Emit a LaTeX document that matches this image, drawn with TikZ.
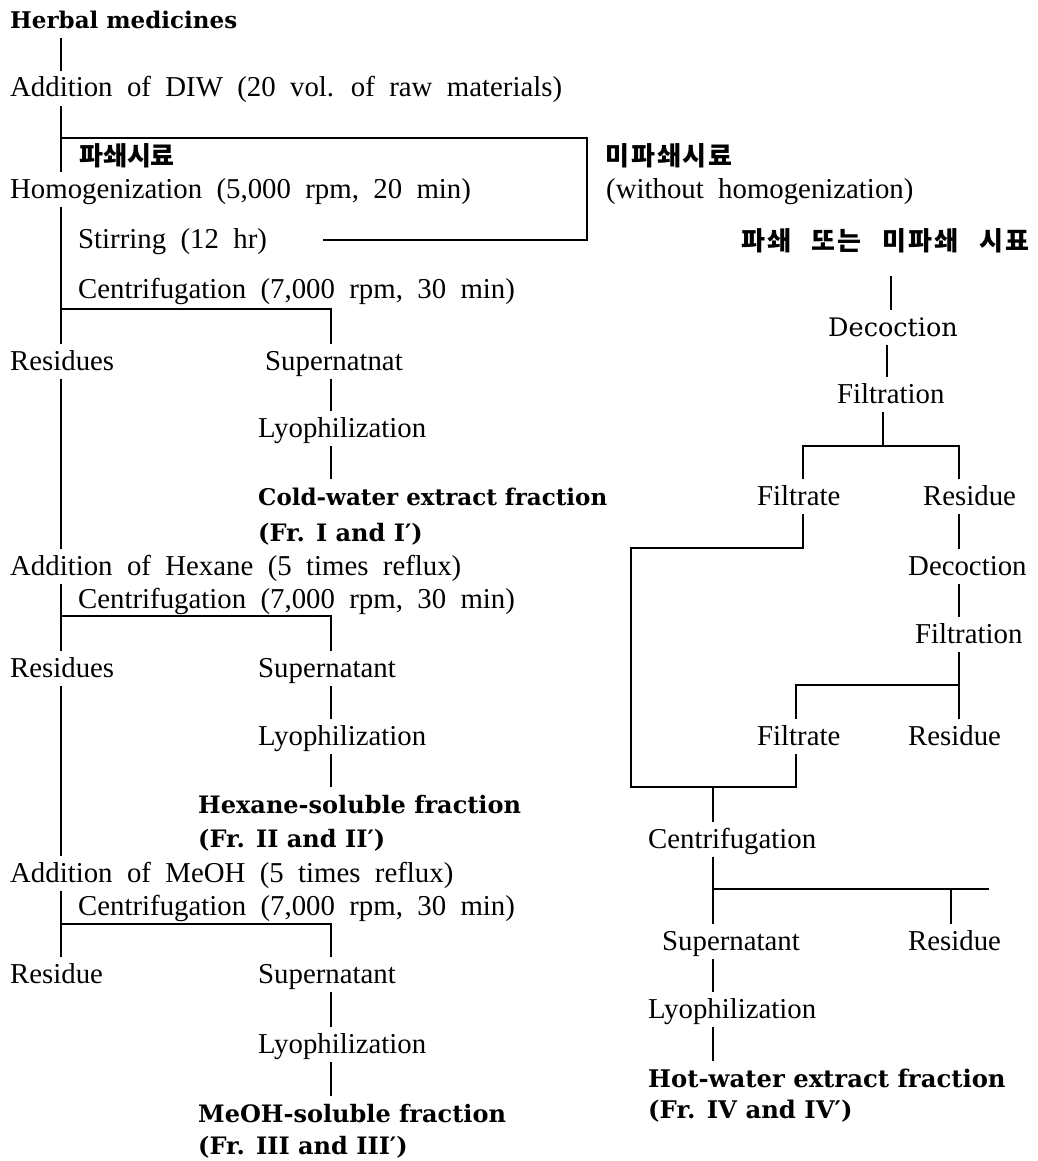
\documentclass[tikz,border=0pt]{standalone}
\usepackage{fontspec}
\setmainfont{Liberation Serif}[WordSpace=2]
\newfontfamily\bfam{DejaVu Serif}[WordSpace=1.6]
\newfontfamily\decofont{DejaVu Serif}
\newfontfamily\krfont{Noto Sans CJK KR}
\newcommand\ks{\kern2pt}
\newcommand\kw{\kern13pt}
\tikzset{
  base/.style={anchor=base west, inner xsep=0pt, inner ysep=6pt, text height=20pt, text depth=3pt},
  reg/.style={base, font=\fontsize{28.8}{30}\selectfont},
  bld/.style={base, font=\bfam\bfseries\fontsize{24}{26}\selectfont},
  bldr/.style={base, font=\bfam\bfseries\fontsize{24.3}{26}\selectfont},
  bldc/.style={base, font=\bfam\bfseries\fontsize{23}{26}\selectfont},
  kor/.style={base, font=\krfont\bfseries\fontsize{26}{28}\selectfont},
  deco/.style={base, font=\decofont\fontsize{25.5}{28}\selectfont},
  ln/.style={line width=1.1pt, line cap=butt},
}
\begin{document}
\begin{tikzpicture}[x=1pt,y=-1pt]
\useasboundingbox[fill=white] (0,0) rectangle (1037,1161);
% column coordinates
\coordinate (xL) at (61,0);
\coordinate (xS) at (331,0);
\coordinate (xR) at (587,0);
\coordinate (xA) at (891,0);
\coordinate (xB) at (887,0);
\coordinate (xC) at (883,0);
\coordinate (xF) at (803,0);
\coordinate (xG) at (631,0);
\coordinate (xH) at (796,0);
\coordinate (xE) at (959,0);
\coordinate (xM) at (713,0);
\coordinate (xN) at (951,0);
% ---------- left column ----------
\node[bldc] (herb) at (10,29) {Herbal medicines};
\node[reg] (diw) at (10,97) {Addition of DIW (20 vol. of raw materials)};
\node[kor] (pas) at (79,166) {파쇄시료};
\node[reg] (hom) at (10,198) {Homogenization (5,000 rpm, 20 min)};
\node[reg] (stir) at (78,248) {Stirring (12 hr)};
\node[reg] (cen1) at (78,298) {Centrifugation (7,000 rpm, 30 min)};
\node[reg] (res1) at (10,370) {Residues};
\node[reg] (sup1) at (265,370) {Supernatnat};
\node[reg] (lyo1) at (258,437) {Lyophilization};
\node[bldc] (cold) at (258,505) {Cold-water extract fraction};
\node[bld] (frI) at (258,541) {(Fr. I and I′)};
\node[reg] (hex) at (10,575) {Addition of Hexane (5 times reflux)};
\node[reg] (cen2) at (78,608) {Centrifugation (7,000 rpm, 30 min)};
\node[reg] (res2) at (10,677) {Residues};
\node[reg] (sup2) at (258,677) {Supernatant};
\node[reg] (lyo2) at (258,745) {Lyophilization};
\node[bld] (hxs) at (198,813) {Hexane-soluble fraction};
\node[bld] (frII) at (198,847) {(Fr. II and II′)};
\node[reg] (meo) at (10,882) {Addition of MeOH (5 times reflux)};
\node[reg] (cen3) at (78,915) {Centrifugation (7,000 rpm, 30 min)};
\node[reg] (res3) at (10,983) {Residue};
\node[reg] (sup3) at (258,983) {Supernatant};
\node[reg] (lyo3) at (258,1053) {Lyophilization};
\node[bld] (mes) at (198,1122) {MeOH-soluble fraction};
\node[bld] (frIII) at (198,1154) {(Fr. III and III′)};
% ---------- right column ----------
\node[kor] (mip) at (605,166) {미\ks 파\ks 쇄\ks 시\ks 료};
\node[reg] (woh) at (606,198) {(without homogenization)};
\node[kor] (kr2) at (741,250) {파\ks 쇄\ks{} \kw 또\ks 는\ks{} \kw 미\ks 파\ks 쇄\ks{} \kw 시\ks 표};
\node[deco] (dec1) at (828,336) {Decoction};
\node[reg] (filt1) at (837,403) {Filtration};
\node[reg] (ftr1) at (757,505) {Filtrate};
\node[reg] (rsd1) at (923,505) {Residue};
\node[reg] (dec2) at (908,575) {Decoction};
\node[reg] (filt2) at (915,643) {Filtration};
\node[reg] (ftr2) at (757,745) {Filtrate};
\node[reg] (rsd2) at (908,745) {Residue};
\node[reg] (cen4) at (648,848) {Centrifugation};
\node[reg] (sup4) at (662,950) {Supernatant};
\node[reg] (rsd3) at (908,950) {Residue};
\node[reg] (lyo4) at (648,1018) {Lyophilization};
\node[bldr] (hot) at (648,1087) {Hot-water extract fraction};
\node[bldr] (frIV) at (648,1118) {(Fr. IV and IV′)};
% ---------- junctions ----------
\coordinate (jA) at (61,138);
\coordinate (jB) at (587,138);
\coordinate (jC) at (587,240);
\coordinate (sEnd) at (323,240);
\coordinate (jD) at (61,309);
\coordinate (jE) at (61,616);
\coordinate (jF) at (61,924);
\coordinate (jG) at (883,446);
\coordinate (jH) at (959,446);
\coordinate (jI) at (631,548);
\coordinate (jJ) at (631,787);
\coordinate (jK) at (959,685);
\coordinate (jL) at (713,787);
\coordinate (jM) at (713,889);
\coordinate (jN) at (989,889);
\coordinate (jO) at (951,889);
% ---------- left connectors ----------
\draw[ln] (herb.south -| xL) -- (diw.north -| xL);
\draw[ln] (diw.south -| xL) -- (hom.north -| xL);
\draw[ln] (jA) -- (jB) -- (jC) -- (sEnd);
\draw[ln] (hom.south -| xL) -- (res1.north -| xL);
\draw[ln] (jD) -| (sup1.north -| xS);
\draw[ln] (sup1.south -| xS) -- (lyo1.north -| xS);
\draw[ln] (lyo1.south -| xS) -- (cold.north -| xS);
\draw[ln] (res1.south -| xL) -- (hex.north -| xL);
\draw[ln] (hex.south -| xL) -- (res2.north -| xL);
\draw[ln] (jE) -| (sup2.north -| xS);
\draw[ln] (sup2.south -| xS) -- (lyo2.north -| xS);
\draw[ln] (lyo2.south -| xS) -- (hxs.north -| xS);
\draw[ln] (res2.south -| xL) -- (meo.north -| xL);
\draw[ln] (meo.south -| xL) -- (res3.north -| xL);
\draw[ln] (jF) -| (sup3.north -| xS);
\draw[ln] (sup3.south -| xS) -- (lyo3.north -| xS);
\draw[ln] (lyo3.south -| xS) -- (mes.north -| xS);
% ---------- right connectors ----------
\draw[ln] ([yshift=-17pt]kr2.south -| xA) -- (dec1.north -| xA);
\draw[ln] (dec1.south -| xB) -- (filt1.north -| xB);
\draw[ln] (filt1.south -| xC) -- (jG);
\draw[ln] (ftr1.north -| xF) |- (jH) -- (rsd1.north -| xE);
\draw[ln] (ftr1.south -| xF) |- (jI) -- (jJ) -| (ftr2.south -| xH);
\draw[ln] (rsd1.south -| xE) -- (dec2.north -| xE);
\draw[ln] (dec2.south -| xE) -- (filt2.north -| xE);
\draw[ln] (filt2.south -| xE) -- (rsd2.north -| xE);
\draw[ln] (jK) -| (ftr2.north -| xH);
\draw[ln] (jL) -- (cen4.north -| xM);
\draw[ln] (cen4.south -| xM) -- (sup4.north -| xM);
\draw[ln] (jM) -- (jN);
\draw[ln] (jO) -- (rsd3.north -| xN);
\draw[ln] (sup4.south -| xM) -- (lyo4.north -| xM);
\draw[ln] (lyo4.south -| xM) -- (hot.north -| xM);
\end{tikzpicture}
\end{document}
